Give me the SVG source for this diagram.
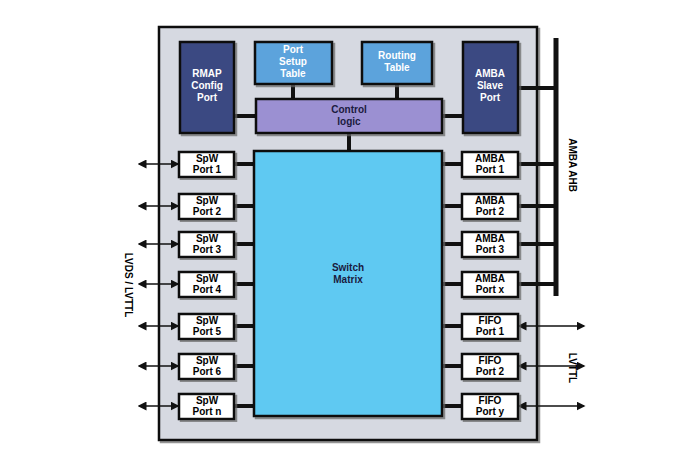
<svg xmlns="http://www.w3.org/2000/svg" width="700" height="470" viewBox="0 0 700 470">
<style>
text{font-family:"Liberation Sans",Arial,sans-serif;font-weight:bold;font-size:10px;text-anchor:middle}
.b{stroke:#111;stroke-width:2.5}
.p{fill:#fff}
.dk{fill:#3b4a82}
.lt{fill:#5ba3dc}
.w{fill:#fff}
.bus{stroke:#111;stroke-width:4;fill:none}
.ln{stroke:#111;stroke-width:1.5;fill:none}
</style>
<defs>
<marker id="a" markerWidth="6" markerHeight="6" refX="5" refY="3" orient="auto-start-reverse"><path d="M0,0L6,3L0,6z" fill="#111"/></marker>
<filter id="s"><feDropShadow dx="2" dy="2" stdDeviation="0.5" flood-color="#666" flood-opacity="0.7"/></filter>
</defs>
<rect width="700" height="470" fill="#fff"/>
<g id="chip"><rect x="159" y="27" width="378" height="413" fill="#d6d9e1" class="b" filter="url(#s)"/></g>
<g id="connectors">
<line x1="556" y1="38" x2="556" y2="296" stroke="#111" stroke-width="5"/>
<path class="bus" d="M518 88H556M518 164H556M518 206H556M518 244H556M518 284H556M234 116H256M442 116H463M293 84V99M397 84V99M349 133V151"/>
<path class="bus" d="M234 164H254M234 206H254M234 244H254M234 284H254M234 326H254M234 366H254M234 406H254M442 164H462M442 206H462M442 244H462M442 284H462M442 326H462M442 366H462M442 406H462"/>
<g marker-start="url(#a)" marker-end="url(#a)" class="ln">
<line x1="139" y1="164" x2="178" y2="164"/><line x1="139" y1="206" x2="178" y2="206"/><line x1="139" y1="244" x2="178" y2="244"/><line x1="139" y1="284" x2="178" y2="284"/><line x1="139" y1="326" x2="178" y2="326"/><line x1="139" y1="366" x2="178" y2="366"/><line x1="139" y1="406" x2="178" y2="406"/>
<line x1="519" y1="326" x2="584" y2="326"/><line x1="519" y1="366" x2="584" y2="366"/><line x1="519" y1="406" x2="584" y2="406"/>
</g>
</g>
<g id="rmap"><rect x="180" y="42" width="54" height="91" class="b dk" filter="url(#s)"/><text x="207" y="77" fill="#fff">RMAP</text><text x="207" y="89" fill="#fff">Config</text><text x="207" y="101" fill="#fff">Port</text></g>
<g id="pst"><rect x="255" y="42" width="77" height="42" class="b lt" filter="url(#s)"/><text x="293" y="53" fill="#fff">Port</text><text x="293" y="65" fill="#fff">Setup</text><text x="293" y="77" fill="#fff">Table</text></g>
<g id="rt"><rect x="362" y="42" width="70" height="42" class="b lt" filter="url(#s)"/><text x="397" y="59" fill="#fff">Routing</text><text x="397" y="71" fill="#fff">Table</text></g>
<g id="asp"><rect x="463" y="42" width="55" height="91" class="b dk" filter="url(#s)"/><text x="490" y="77" fill="#fff">AMBA</text><text x="490" y="89" fill="#fff">Slave</text><text x="490" y="101" fill="#fff">Port</text></g>
<g id="ctrl"><rect x="256" y="99" width="186" height="34" class="b" fill="#9b90d2" filter="url(#s)"/><text x="349" y="113" fill="#1a1a40">Control</text><text x="349" y="125" fill="#1a1a40">logic</text></g>
<g id="sw"><rect x="254" y="151" width="188" height="265" class="b" fill="#5ec9f2" filter="url(#s)"/><text x="348" y="271" fill="#1a1a40">Switch</text><text x="348" y="283" fill="#1a1a40">Matrix</text></g>
<g id="spw1"><rect x="179" y="152" width="55" height="25" class="b w" filter="url(#s)"/><text x="207" y="162">SpW</text><text x="207" y="173">Port 1</text></g>
<g id="spw2"><rect x="179" y="194" width="55" height="25" class="b w" filter="url(#s)"/><text x="207" y="204">SpW</text><text x="207" y="215">Port 2</text></g>
<g id="spw3"><rect x="179" y="232" width="55" height="25" class="b w" filter="url(#s)"/><text x="207" y="242">SpW</text><text x="207" y="253">Port 3</text></g>
<g id="spw4"><rect x="179" y="272" width="55" height="25" class="b w" filter="url(#s)"/><text x="207" y="282">SpW</text><text x="207" y="293">Port 4</text></g>
<g id="spw5"><rect x="179" y="314" width="55" height="25" class="b w" filter="url(#s)"/><text x="207" y="324">SpW</text><text x="207" y="335">Port 5</text></g>
<g id="spw6"><rect x="179" y="354" width="55" height="25" class="b w" filter="url(#s)"/><text x="207" y="364">SpW</text><text x="207" y="375">Port 6</text></g>
<g id="spwn"><rect x="179" y="394" width="55" height="25" class="b w" filter="url(#s)"/><text x="207" y="404">SpW</text><text x="207" y="415">Port n</text></g>
<g id="amba1"><rect x="462" y="152" width="56" height="25" class="b w" filter="url(#s)"/><text x="490" y="162">AMBA</text><text x="490" y="173">Port 1</text></g>
<g id="amba2"><rect x="462" y="194" width="56" height="25" class="b w" filter="url(#s)"/><text x="490" y="204">AMBA</text><text x="490" y="215">Port 2</text></g>
<g id="amba3"><rect x="462" y="232" width="56" height="25" class="b w" filter="url(#s)"/><text x="490" y="242">AMBA</text><text x="490" y="253">Port 3</text></g>
<g id="ambax"><rect x="462" y="272" width="56" height="25" class="b w" filter="url(#s)"/><text x="490" y="282">AMBA</text><text x="490" y="293">Port x</text></g>
<g id="fifo1"><rect x="462" y="314" width="56" height="25" class="b w" filter="url(#s)"/><text x="490" y="324">FIFO</text><text x="490" y="335">Port 1</text></g>
<g id="fifo2"><rect x="462" y="354" width="56" height="25" class="b w" filter="url(#s)"/><text x="490" y="364">FIFO</text><text x="490" y="375">Port 2</text></g>
<g id="fifoy"><rect x="462" y="394" width="56" height="25" class="b w" filter="url(#s)"/><text x="490" y="404">FIFO</text><text x="490" y="415">Port y</text></g>
<g id="labels">
<text transform="translate(125,285) rotate(90)">LVDS / LVTTL</text>
<text transform="translate(569,165) rotate(90)">AMBA AHB</text>
<text transform="translate(569,368) rotate(90)">LVTTL</text>
</g>
</svg>
